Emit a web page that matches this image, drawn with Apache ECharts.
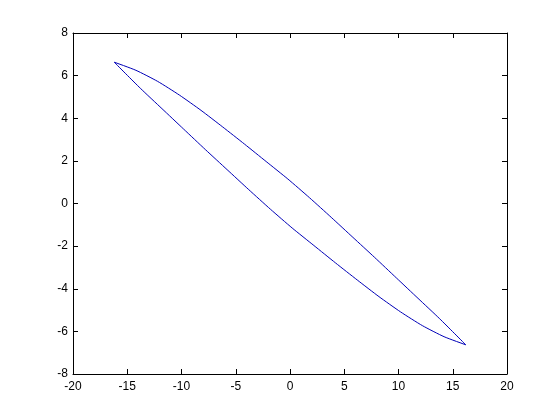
<!DOCTYPE html>
<html lang="en">
<head>
    <meta charset="UTF-8">
    <title>loop</title>
    <script src="https://cdn.jsdelivr.net/npm/echarts@6/dist/echarts.min.js"></script>
    <style>
        html, body { margin: 0; padding: 0; background: #fff; }
    </style>
</head>
<body>
<div id="main" style="width: 560px; height: 420px;"></div>
<script type="text/javascript">
    // upper branch, left tip -> right tip
    var upperX = [-16.2, -14.2, -12.2, -10.2, -8.2, -6.2, -4.2, -2.2, -0.2,
                  1.8, 3.8, 5.8, 7.8, 9.8, 11.8, 13.8, 16.2];
    var upperY = [6.63, 6.25, 5.73, 5.09, 4.37, 3.59, 2.79, 1.97, 1.15,
                  0.27, -0.65, -1.59, -2.53, -3.49, -4.45, -5.41, -6.63];
    // lower branch, right tip -> left tip
    var lowerX = [16.2, 14.2, 12.2, 10.2, 8.2, 6.2, 4.2, 2.2, 0.2,
                  -1.8, -3.8, -5.8, -7.8, -9.8, -11.8, -13.8, -16.2];
    var lowerY = [-6.63, -6.25, -5.73, -5.09, -4.37, -3.59, -2.79, -1.97, -1.15,
                  -0.27, 0.65, 1.59, 2.53, 3.49, 4.45, 5.41, 6.63];

    function pairs(xs, ys) {
        var out = [];
        for (var i = 0; i < xs.length; i++) {
            out.push([xs[i], ys[i]]);
        }
        return out;
    }

    var lineColor = '#0000b8';
    var labelStyle = { color: '#000', fontSize: 12, fontFamily: 'Liberation Sans' };

    var myChart = echarts.init(document.getElementById('main'));
    var option = {
        backgroundColor: '#fff',
        animation: false,
        grid: { left: 73, right: 53, top: 33, bottom: 46 },
        xAxis: [{
            type: 'value', min: -20, max: 20, interval: 5, position: 'bottom',
            axisLine: { show: true, onZero: false, lineStyle: { color: '#000', width: 1 } },
            axisTick: { show: true, inside: true, length: 5, lineStyle: { color: '#000' } },
            axisLabel: Object.assign({ margin: 7 }, labelStyle),
            splitLine: { show: false }
        }, {
            type: 'value', min: -20, max: 20, interval: 5, position: 'top',
            axisLine: { show: true, onZero: false, lineStyle: { color: '#000', width: 1 } },
            axisTick: { show: true, inside: true, length: 5, lineStyle: { color: '#000' } },
            axisLabel: { show: false },
            splitLine: { show: false }
        }],
        yAxis: [{
            type: 'value', min: -8, max: 8, interval: 2, position: 'left',
            axisLine: { show: true, onZero: false, lineStyle: { color: '#000', width: 1 } },
            axisTick: { show: true, inside: true, length: 5, lineStyle: { color: '#000' } },
            axisLabel: Object.assign({ margin: 5 }, labelStyle),
            splitLine: { show: false }
        }, {
            type: 'value', min: -8, max: 8, interval: 2, position: 'right',
            axisLine: { show: true, onZero: false, lineStyle: { color: '#000', width: 1 } },
            axisTick: { show: true, inside: true, length: 5, lineStyle: { color: '#000' } },
            axisLabel: { show: false },
            splitLine: { show: false }
        }],
        series: [{
            name: 'upper',
            type: 'line',
            showSymbol: false,
            smooth: 0.2,
            data: pairs(upperX, upperY),
            lineStyle: { color: lineColor, width: 1 }
        }, {
            name: 'lower',
            type: 'line',
            showSymbol: false,
            smooth: 0.2,
            data: pairs(lowerX, lowerY),
            lineStyle: { color: lineColor, width: 1 }
        }]
    };
    myChart.setOption(option);
</script>
</body>
</html>
